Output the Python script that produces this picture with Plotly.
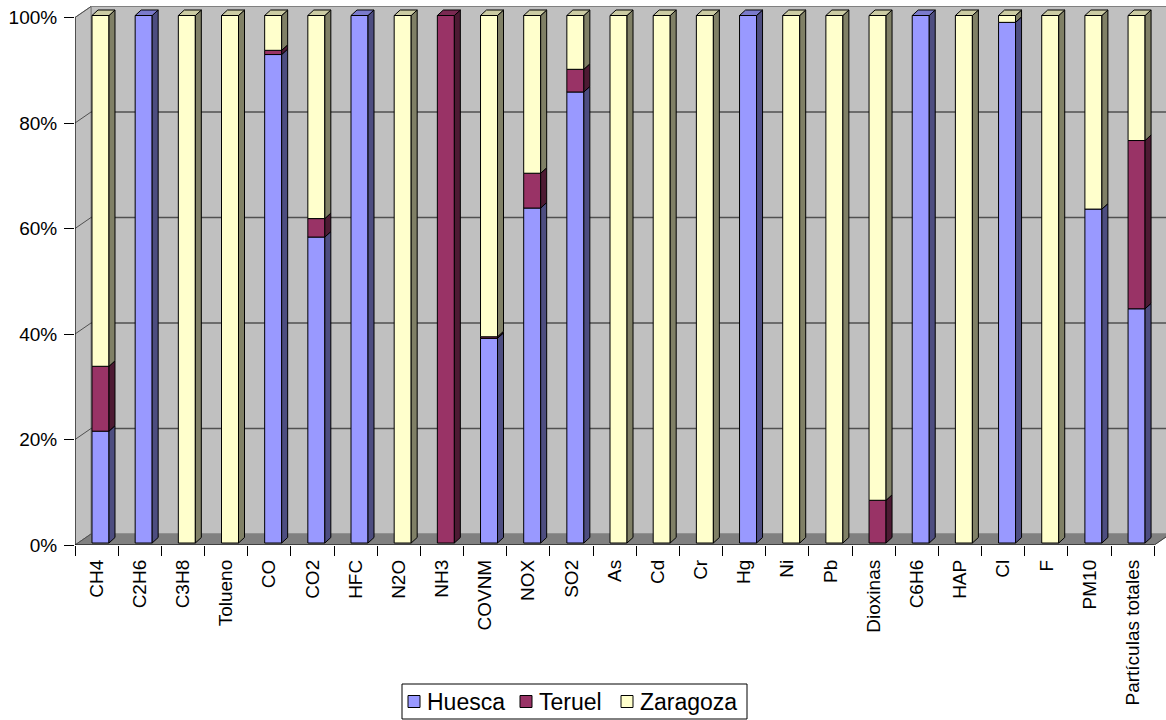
import plotly.graph_objects as go

# Share of emissions by province (%)
categories = ["CH4", "C2H6", "C3H8", "Tolueno", "CO", "CO2", "HFC", "N2O", "NH3",
              "COVNM", "NOX", "SO2", "As", "Cd", "Cr", "Hg", "Ni", "Pb", "Dioxinas",
              "C6H6", "HAP", "Cl", "F", "PM10", "Partículas totales"]
huesca = [21.2, 100, 0, 0, 92.6, 58.0, 100, 0, 0, 38.8, 63.5, 85.5, 0, 0, 0, 100,
          0, 0, 0, 100, 0, 98.7, 0, 63.3, 44.4]
teruel = [12.3, 0, 0, 0, 0.8, 3.5, 0, 0, 100, 0.3, 6.6, 4.3, 0, 0, 0, 0,
          0, 0, 8.1, 0, 0, 0, 0, 0, 31.9]
zaragoza = [66.5, 0, 100, 100, 6.6, 38.5, 0, 100, 0, 60.9, 29.9, 10.2, 100, 100, 100, 0,
            100, 100, 91.9, 0, 100, 1.3, 100, 36.7, 23.7]
y_ticks = [0, 20, 40, 60, 80, 100]
y_tick_labels = ["0%", "20%", "40%", "60%", "80%", "100%"]

series = [
    ("Huesca", huesca, "#9999FF", "#4D4D80", "#7A7ACC"),
    ("Teruel", teruel, "#993366", "#4D1A33", "#7A2952"),
    ("Zaragoza", zaragoza, "#FFFFCC", "#808066", "#CCCCA3"),
]

# pixel geometry of the pseudo-3D frame
W, H = 1166, 720
ML, MB = 75, 175
CAT_PX = 43.17
PCT_PX = 5.275
plot_w = W - ML
plot_h = H - MB
x_max = -0.5 + plot_w / CAT_PX
y_max = plot_h / PCT_PX

DX, DY = 16 / CAT_PX, 11 / PCT_PX          # wall depth
BX, BY = 3.9 / CAT_PX, 2 / PCT_PX          # bar offset inside the floor
BW = 17 / CAT_PX                           # bar front width
SX, SY = 6 / CAT_PX, 5.5 / PCT_PX          # bar depth

n = len(categories)
FONT = "Liberation Sans, Arial, sans-serif"


def px_x(px):
    return (px - ML) / plot_w


def px_y(py):
    return (plot_h - py) / plot_h


fig = go.Figure()

# stacked front faces
bottoms = [0.0] * n
tops_info = [None] * n
side_polys = {}
for name, vals, front, side, top in series:
    ys, bases = [], []
    sx, sy = [], []
    for i, v in enumerate(vals):
        b = bottoms[i] + BY
        if v > 0:
            ys.append(v)
            bases.append(b)
            xr = i + BX + BW / 2
            sx += [xr, xr + SX, xr + SX, xr, xr, None]
            sy += [b, b + SY, b + v + SY, b + v, b, None]
            tops_info[i] = (b + v, top)
            bottoms[i] += v
        else:
            ys.append(None)
            bases.append(b)
    side_polys[name] = (sx, sy, side)
    fig.add_trace(go.Bar(
        name=name, x=[i + BX for i in range(n)], y=ys, base=bases, width=BW,
        marker=dict(color=front, line=dict(color="black", width=1)),
        hoverinfo="skip", showlegend=False,
    ))

# side faces
for name, (sx, sy, side) in side_polys.items():
    fig.add_trace(go.Scatter(
        x=sx, y=sy, mode="lines", fill="toself", fillcolor=side,
        line=dict(color="black", width=1), showlegend=False, hoverinfo="skip",
    ))

# top faces, coloured by the highest segment
top_groups = {}
for i, info in enumerate(tops_info):
    if info is None:
        continue
    t, col = info
    xl = i + BX - BW / 2
    xr = i + BX + BW / 2
    gx, gy = top_groups.setdefault(col, ([], []))
    gx += [xl, xl + SX, xr + SX, xr, xl, None]
    gy += [t, t + SY, t + SY, t, t, None]
for col, (gx, gy) in top_groups.items():
    fig.add_trace(go.Scatter(
        x=gx, y=gy, mode="lines", fill="toself", fillcolor=col,
        line=dict(color="black", width=1), showlegend=False, hoverinfo="skip",
    ))

shapes = []
wall_edge = dict(color="#808080", width=1)
# back wall
shapes.append(dict(type="rect", layer="below", x0=-0.5 + DX, x1=x_max + 1,
                   y0=DY, y1=100 + DY, fillcolor="#C0C0C0", line=wall_edge))
# side wall
shapes.append(dict(type="path", layer="below",
                   path=f"M {-0.5},{0} L {-0.5 + DX},{DY} L {-0.5 + DX},{100 + DY} L {-0.5},{100} Z",
                   fillcolor="#C0C0C0", line=wall_edge))
# floor
shapes.append(dict(type="path", layer="below",
                   path=f"M {-0.5},{0} L {n - 0.5},{0} L {n - 0.5 + DX},{DY} L {-0.5 + DX},{DY} Z",
                   fillcolor="#808080", line=dict(color="#808080", width=1)))
# gridlines
for v in y_ticks:
    if 0 < v < 100:
        shapes.append(dict(type="line", layer="below", x0=-0.5 + DX, x1=x_max + 1,
                           y0=v + DY, y1=v + DY, line=dict(color="#505050", width=1.5)))
    shapes.append(dict(type="line", layer="below", x0=-0.5, x1=-0.5 + DX,
                       y0=v, y1=v + DY, line=dict(color="#505050", width=1)))
# front axes
shapes.append(dict(type="line", x0=-0.5, x1=-0.5, y0=0, y1=100,
                   line=dict(color="black", width=1)))
shapes.append(dict(type="line", x0=-0.5, x1=n - 0.5, y0=0, y1=0,
                   line=dict(color="black", width=1)))
shapes.append(dict(type="line", x0=n - 0.5, x1=n - 0.5 + DX, y0=0, y1=DY,
                   line=dict(color="#404040", width=1)))

# legend box with swatches
annotations = []
LEG_X0, LEG_X1, LEG_Y0, LEG_Y1 = 402, 747, 684, 719
shapes.append(dict(type="rect", xref="paper", yref="paper",
                   x0=px_x(LEG_X0), x1=px_x(LEG_X1), y0=px_y(LEG_Y1), y1=px_y(LEG_Y0),
                   fillcolor="white", line=dict(color="black", width=1)))
leg_cy = (LEG_Y0 + LEG_Y1) / 2
for (name, _, front, _, _), sq_x in zip(series, [408, 520, 621]):
    shapes.append(dict(type="rect", xref="paper", yref="paper",
                       x0=px_x(sq_x), x1=px_x(sq_x + 12),
                       y0=px_y(leg_cy + 6), y1=px_y(leg_cy - 6),
                       fillcolor=front, line=dict(color="black", width=1)))
    annotations.append(dict(xref="paper", yref="paper", x=px_x(sq_x + 17), y=px_y(leg_cy),
                            xanchor="left", yanchor="middle", text=name, showarrow=False,
                            font=dict(size=23, family=FONT, color="black")))

fig.update_layout(
    width=W, height=H,
    margin=dict(l=ML, r=0, t=0, b=MB, autoexpand=False),
    paper_bgcolor="white", plot_bgcolor="white",
    barmode="overlay",
    shapes=shapes,
    annotations=annotations,
    font=dict(family=FONT, color="black", size=19),
    xaxis=dict(range=[-0.5, x_max], tickvals=list(range(n)), ticktext=categories,
               tickangle=-90, ticks="", showgrid=False, zeroline=False, showline=False,
               tickfont=dict(size=19), ticklabelstandoff=10, automargin=False),
    xaxis2=dict(range=[-0.5, x_max], overlaying="x", anchor="y", side="bottom",
                tickvals=[i - 0.5 for i in range(n + 1)], ticks="outside", ticklen=10,
                tickcolor="black", showticklabels=False, showgrid=False, zeroline=False,
                showline=False, automargin=False),
    yaxis=dict(range=[0, y_max], tickvals=y_ticks, ticktext=y_tick_labels,
               ticks="outside", ticklen=10, tickcolor="black", showgrid=False,
               zeroline=False, showline=False, tickfont=dict(size=19),
               ticklabelstandoff=3, automargin=False),
    showlegend=False,
)
# invisible trace to register the boundary tick axis
fig.add_trace(go.Scatter(x=[0], y=[0], xaxis="x2", mode="markers",
                         marker=dict(opacity=0), showlegend=False, hoverinfo="skip"))

fig.write_html("out.html")
